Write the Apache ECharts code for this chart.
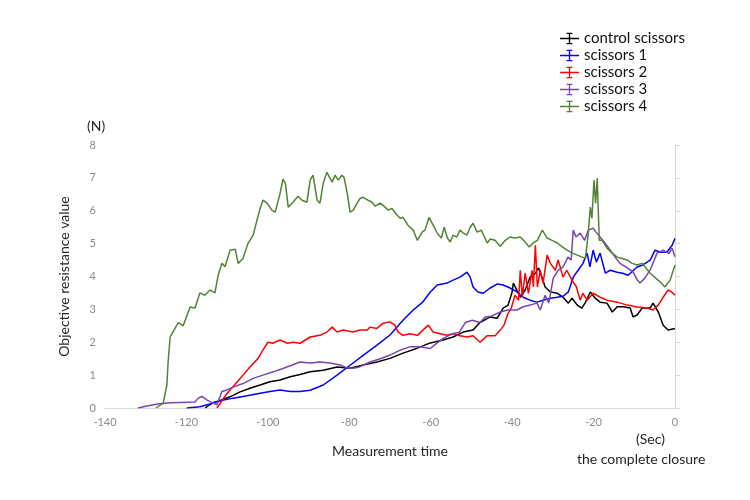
<!DOCTYPE html>
<html>
<head>
<meta charset="utf-8">
<script src="https://cdn.jsdelivr.net/npm/echarts@6/dist/echarts.min.js"></script>
<style>
  html, body { margin: 0; padding: 0; background: #fff; }
  #chart { width: 750px; height: 500px; }
</style>
</head>
<body>
<div id="chart"></div>
<script>
// names shown in the legend
var seriesNames = ['control scissors', 'scissors 1', 'scissors 2', 'scissors 3', 'scissors 4'];
var xTicks = [-140, -120, -100, -80, -60, -40, -20, 0];
var yTicks = [0, 1, 2, 3, 4, 5, 6, 7, 8];

// [time (sec), resistance (N)]
var controlScissors = [[-115.4,0],[-113.7,0.15],[-111.8,0.22],[-109.3,0.34],[-106.8,0.49],[-104.4,0.6],[-101.9,0.7],[-99.5,0.8],[-97,0.85],[-94.5,0.95],[-92.1,1.02],[-89.6,1.1],[-86.4,1.15],[-83,1.25],[-79.8,1.21],[-76.6,1.31],[-73.2,1.4],[-70,1.51],[-66.8,1.67],[-63.3,1.82],[-60.1,1.98],[-57,2.07],[-54.5,2.16],[-52,2.31],[-49.6,2.37],[-47.9,2.6],[-45.4,2.77],[-43.7,2.73],[-42.2,3.04],[-41,3.13],[-40,3.53],[-39.7,3.8],[-38,3.37],[-36.8,3.59],[-35.6,3.98],[-34.3,4.1],[-33.5,4.26],[-32.7,3.98],[-31.9,3.68],[-30.6,3.53],[-28.9,3.49],[-27.5,3.37],[-26.2,3.19],[-25.3,3.34],[-24,3.13],[-22.9,3.04],[-22.1,3.19],[-20.8,3.53],[-19.6,3.34],[-18.4,3.22],[-16.7,3.19],[-15.4,2.92],[-14.2,3.08],[-12.7,3.08],[-11,3.04],[-10.3,2.77],[-9.3,2.83],[-8.1,3.04],[-6.1,3.04],[-5.4,3.19],[-4.1,2.92],[-2.9,2.52],[-1.7,2.37],[0,2.42]];

var scissors1 = [[-119.9,0],[-116.7,0.04],[-114.2,0.12],[-111.8,0.22],[-108.5,0.3],[-105.1,0.37],[-101.9,0.45],[-98.7,0.52],[-97,0.55],[-94.5,0.5],[-92.1,0.5],[-89.6,0.54],[-86.4,0.7],[-83,1.0],[-79.8,1.3],[-76.6,1.6],[-73.2,1.91],[-70,2.22],[-66.8,2.67],[-64.3,2.98],[-61.9,3.23],[-60.1,3.53],[-58.4,3.74],[-56,3.8],[-54.5,3.89],[-52.8,3.98],[-51.1,4.13],[-50.3,3.98],[-49.6,3.68],[-48.4,3.53],[-47.1,3.49],[-45.4,3.65],[-43.7,3.77],[-42.2,3.74],[-40.5,3.65],[-38.8,3.53],[-37.3,3.37],[-35.6,3.28],[-33.9,3.22],[-32.4,3.28],[-30.6,3.34],[-28.9,3.37],[-27.5,3.4],[-26.2,3.53],[-25,3.98],[-23.8,4.19],[-22.6,4.4],[-21.6,4.71],[-20.9,4.29],[-20.1,4.8],[-19.3,4.44],[-18.4,4.71],[-17.1,4.1],[-15.9,4.19],[-14.2,4.13],[-12.9,4.1],[-11.5,4.04],[-9.3,4.29],[-7.9,4.35],[-6.1,4.5],[-4.9,4.8],[-3.6,4.74],[-2,4.74],[-0.7,4.95],[0,5.16]];

var scissors2 = [[-112.5,0],[-110,0.45],[-107.6,0.78],[-106.1,1.0],[-104.4,1.25],[-102.4,1.51],[-101.2,1.76],[-100,2.0],[-98.8,1.97],[-97,2.07],[-95.2,1.97],[-93.8,2.0],[-92.1,1.97],[-89.6,2.16],[-87.2,2.21],[-85.5,2.31],[-84.2,2.46],[-83,2.31],[-81.5,2.37],[-79.1,2.31],[-77.3,2.37],[-75.6,2.37],[-74.9,2.46],[-73.2,2.42],[-71.7,2.58],[-70,2.62],[-68.8,2.52],[-68,2.31],[-66.8,2.21],[-65.1,2.26],[-63.3,2.21],[-61.9,2.37],[-60.6,2.52],[-59.4,2.31],[-57.7,2.26],[-56,2.21],[-54.5,2.26],[-52.8,2.2],[-51.1,2.16],[-49.6,2.2],[-47.9,2.0],[-46.1,2.2],[-44.2,2.2],[-42.9,2.37],[-42,2.52],[-41,2.88],[-40.2,3.04],[-39.3,3.43],[-38.4,3.28],[-38,4.19],[-37.5,3.37],[-36.8,4.1],[-36,3.49],[-35.1,4.19],[-34.8,3.68],[-34.3,4.95],[-33.8,3.68],[-33.1,4.19],[-32.4,3.8],[-31.4,4.65],[-30.6,4.4],[-29.4,4.19],[-28.7,4.5],[-27.5,3.98],[-26.6,4.19],[-25.3,3.89],[-24.2,3.68],[-23.3,3.28],[-22.6,3.49],[-21.6,3.28],[-20.1,3.49],[-18.4,3.37],[-16.7,3.28],[-14.2,3.22],[-11.7,3.13],[-9.3,3.07],[-6.8,3.04],[-5.4,2.98],[-4.1,3.13],[-2.9,3.37],[-1.7,3.59],[-0.8,3.53],[0,3.43]];

var scissors3 = [[-131.9,0],[-129.7,0.06],[-127,0.12],[-124,0.16],[-121.6,0.17],[-117.9,0.18],[-117.1,0.3],[-116.2,0.35],[-114.9,0.24],[-113.5,0.15],[-112.5,0.1],[-111.3,0.5],[-110,0.55],[-108.5,0.64],[-106,0.75],[-103.6,0.9],[-101.2,1.0],[-98.7,1.1],[-96.3,1.2],[-94,1.31],[-92.1,1.4],[-89.6,1.37],[-87.2,1.4],[-84.7,1.37],[-82.3,1.31],[-80.5,1.22],[-79.1,1.21],[-77.5,1.25],[-74.9,1.4],[-72.4,1.5],[-70,1.61],[-67.5,1.76],[-65.1,1.86],[-62.6,1.86],[-60.1,1.81],[-58.4,1.98],[-56.9,2.12],[-54.5,2.27],[-53,2.3],[-51.5,2.6],[-49.8,2.67],[-47.9,2.6],[-46.6,2.77],[-45.4,2.78],[-42.9,2.92],[-41,2.98],[-38.8,2.98],[-37.3,3.08],[-35.6,3.13],[-33.9,3.19],[-33.1,2.98],[-31.9,3.43],[-31,3.2],[-30.4,3.6],[-29.9,3.95],[-28.7,4.19],[-27.5,4.29],[-26.3,4.59],[-25.5,4.5],[-25,5.41],[-24.3,5.2],[-23.3,5.32],[-22.2,5.1],[-21.3,5.41],[-20.1,5.47],[-19.4,5.35],[-18.4,5.2],[-17.2,5.02],[-15.9,4.8],[-14.7,4.59],[-13.5,4.4],[-11.7,4.26],[-10.3,4.14],[-9.3,3.9],[-8.6,3.8],[-7.4,3.95],[-6.1,4.2],[-4.4,4.71],[-2.9,4.8],[-1.5,4.7],[-0.7,4.86],[0,4.6]];

var scissors4 = [[-127.5,0],[-125.7,0.15],[-124.8,0.7],[-124.5,1.4],[-124,2.16],[-123.5,2.27],[-122,2.6],[-120.8,2.5],[-119.1,3.07],[-117.9,3.04],[-116.7,3.5],[-115.5,3.43],[-114.2,3.59],[-113,3.5],[-112.2,4.04],[-111.3,4.4],[-110.5,4.3],[-109.3,4.8],[-108,4.83],[-107.3,4.4],[-106.1,4.55],[-104.9,5.0],[-103.6,5.26],[-102.7,5.7],[-101.9,6.07],[-101.2,6.32],[-100.2,6.23],[-99,6.02],[-98.2,5.96],[-97,6.53],[-96.3,6.96],[-95.7,6.84],[-95,6.11],[-93.8,6.26],[-92.6,6.44],[-91.6,6.32],[-90.4,6.26],[-89.6,6.93],[-88.9,7.08],[-87.9,6.32],[-87.2,6.23],[-86.4,6.84],[-85.5,7.17],[-84.2,6.87],[-83.5,7.08],[-82.7,6.93],[-81.8,7.08],[-81.3,7.02],[-80.5,6.53],[-79.8,5.96],[-79,6.02],[-78.1,6.23],[-77.3,6.38],[-76.6,6.41],[-75.4,6.32],[-74.4,6.26],[-73.7,6.14],[-72.4,6.23],[-71.2,6.11],[-70.5,6.02],[-69.5,6.07],[-68.3,5.87],[-67.5,5.77],[-66.8,5.8],[-65.6,5.56],[-64.3,5.41],[-63.3,5.1],[-62.1,5.35],[-61.4,5.41],[-60.4,5.8],[-59.4,5.56],[-58.4,5.32],[-57.4,5.17],[-56.7,5.5],[-55.9,5.17],[-55.2,5.05],[-54.5,5.26],[-53.6,5.2],[-52.8,5.41],[-52,5.32],[-51.1,5.26],[-50.3,5.5],[-49.6,5.62],[-48.6,5.35],[-47.6,5.41],[-46.8,5.2],[-46.1,5.02],[-45.4,5.14],[-44.2,5.1],[-42.9,4.92],[-41.7,5.1],[-40.5,5.2],[-39.3,5.17],[-38,5.2],[-36.8,5.05],[-35.8,4.9],[-34.8,5.02],[-33.8,5.1],[-32.6,5.41],[-32.2,5.47],[-31.4,5.17],[-30.2,5.1],[-28.9,5.02],[-27.7,4.9],[-26.5,4.8],[-25.3,4.71],[-24,4.65],[-22.8,4.59],[-22,4.55],[-21.3,5.32],[-20.8,6.11],[-20.4,5.77],[-19.9,6.93],[-19.5,6.23],[-19.1,6.99],[-18.6,5.1],[-17.9,5.1],[-16.7,4.86],[-15.4,4.71],[-14.2,4.59],[-13,4.55],[-11.7,4.5],[-10.5,4.4],[-9.3,4.35],[-8.1,4.4],[-6.1,4.1],[-3.6,3.83],[-2.5,3.68],[-1.2,3.89],[0,4.35]];

var seriesData = [controlScissors, scissors1, scissors2, scissors3, scissors4];
var colors = ['#000000', '#0000ff', '#ff0000', '#7a45b0', '#548235'];

// error bar looking legend mark
var errIcon = 'path://M0,5.3h20v1.4h-20z M9.3,0h1.4v12h-1.4z M7,0h6v1.2h-6z M7,10.8h6v1.2h-6z';

var font = 'Lato, "Open Sans", sans-serif';

var chart = echarts.init(document.getElementById('chart'));

var option = {
    animation: false,
    color: colors,
    textStyle: { fontFamily: font },
    grid: { left: 105, right: 75, top: 145, bottom: 92, containLabel: false },
    legend: {
        orient: 'vertical',
        left: 555,
        top: 26,
        itemWidth: 19,
        itemHeight: 12,
        itemGap: 2,
        icon: errIcon,
        textStyle: { fontSize: 15, color: '#111', fontFamily: font },
        data: seriesNames
    },
    xAxis: {
        type: 'value',
        min: xTicks[0],
        max: xTicks[xTicks.length - 1],
        interval: 20,
        name: 'Measurement time',
        nameLocation: 'middle',
        nameGap: 36,
        nameTextStyle: { fontSize: 14, color: '#262626', fontFamily: font },
        axisLine: { show: true, onZero: false, lineStyle: { color: '#d9d9d9', width: 1 } },
        axisTick: { show: false },
        axisLabel: { color: '#8c8c8c', fontSize: 11, margin: 9 },
        splitLine: { show: false }
    },
    yAxis: [{
        type: 'value',
        position: 'left',
        min: yTicks[0],
        max: yTicks[yTicks.length - 1],
        interval: 1,
        name: 'Objective resistance value',
        nameLocation: 'middle',
        nameGap: 34,
        nameRotate: 90,
        nameTextStyle: { fontSize: 14, color: '#262626', fontFamily: font },
        axisLine: { show: false },
        axisTick: { show: false },
        axisLabel: { color: '#8c8c8c', fontSize: 11, margin: 9 },
        splitLine: { show: false }
    }, {
        type: 'value',
        position: 'right',
        min: yTicks[0],
        max: yTicks[yTicks.length - 1],
        interval: 1,
        axisLine: { show: true, lineStyle: { color: '#d9d9d9', width: 1 } },
        axisTick: { show: true, length: 5, lineStyle: { color: '#d9d9d9' } },
        axisLabel: { show: false },
        splitLine: { show: false }
    }],
    graphic: [
        { type: 'text', left: 87, top: 119, style: { text: '(N)', fontSize: 14, fill: '#262626', fontFamily: font } },
        { type: 'text', left: 636, top: 432, style: { text: '(Sec)', fontSize: 14, fill: '#262626', fontFamily: font } },
        { type: 'text', left: 577, top: 452, style: { text: 'the complete closure', fontSize: 14, fill: '#262626', fontFamily: font } }
    ],
    series: seriesNames.map(function (name, i) {
        return {
            name: name,
            type: 'line',
            yAxisIndex: 0,
            showSymbol: false,
            symbol: 'none',
            data: seriesData[i],
            lineStyle: { color: colors[i], width: 1.5 },
            itemStyle: { color: colors[i] }
        };
    })
};

chart.setOption(option);
</script>
</body>
</html>
